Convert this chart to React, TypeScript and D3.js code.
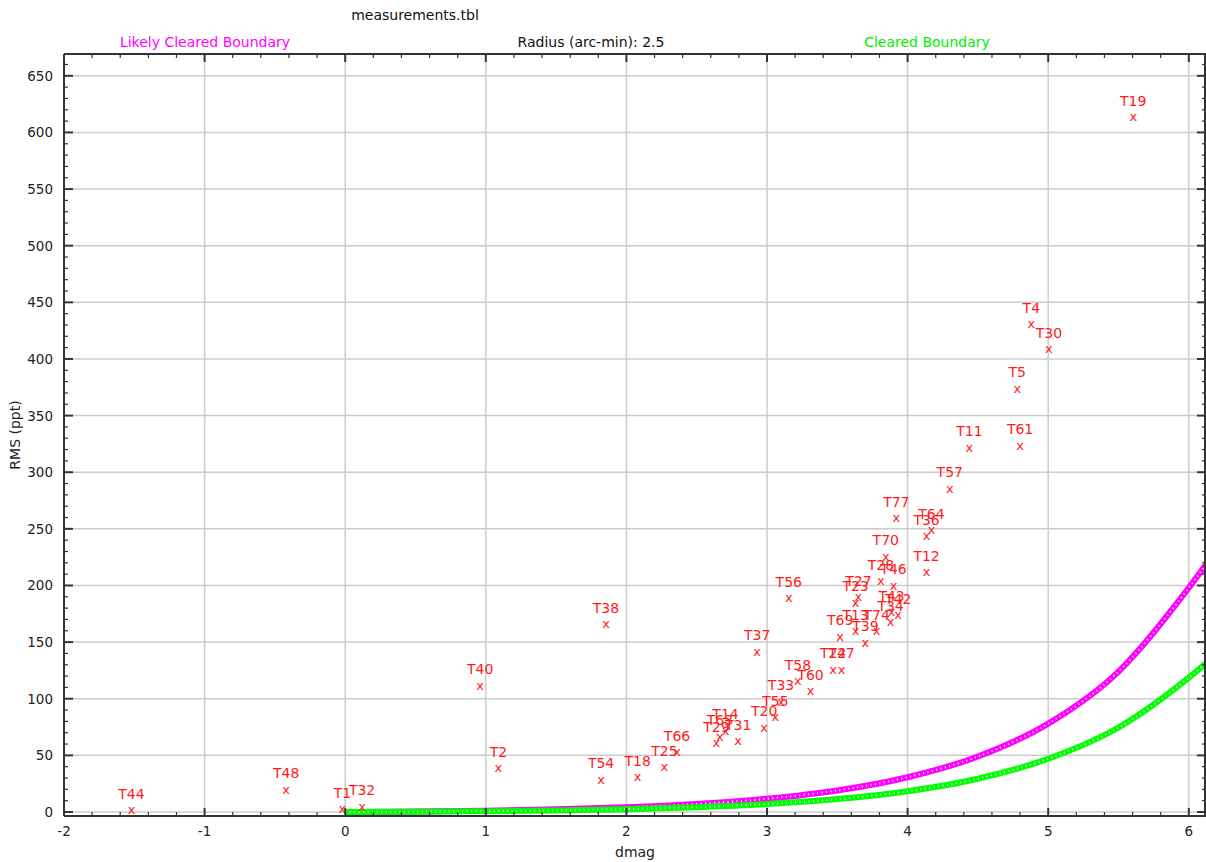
import React from "react";
import * as d3 from "d3";

const W = 1206;
const H = 862;

// Target points
const targetLabels = [
  "T44", "T48", "T1", "T32", "T40", "T2", "T54", "T38", "T18", "T25", "T66",
  "T29", "T63", "T14", "T31", "T37", "T20", "T55", "T33", "T56", "T58", "T60",
  "T22", "T47", "T69", "T13", "T23", "T27", "T39", "T74", "T70", "T28", "T46",
  "T43", "T42", "T34", "T77", "T12", "T36", "T64", "T57", "T11", "T5", "T61",
  "T4", "T30", "T19",
];
const targetDmag = [
  -1.52, -0.42, -0.02, 0.12, 0.96, 1.09, 1.82, 1.855, 2.08, 2.27, 2.36,
  2.64, 2.665, 2.705, 2.795, 2.93, 2.98, 3.06, 3.1, 3.155, 3.22, 3.31,
  3.47, 3.53, 3.52, 3.63, 3.63, 3.65, 3.7, 3.78, 3.845, 3.81, 3.9,
  3.886, 3.933, 3.879, 3.92, 4.135, 4.135, 4.17, 4.3, 4.44, 4.78, 4.8,
  4.88, 5.005, 5.605,
];
const targetRms = [
  2, 20, 3, 5, 112, 39, 29, 166, 31, 40, 53,
  61, 67, 72, 63, 142, 75, 84, 98, 189, 116, 107,
  126, 126, 155, 160, 185, 190, 150, 160, 226, 204, 200,
  177, 174, 168, 260, 212, 244, 249, 286, 322, 374, 324,
  431, 409, 614,
];

// Boundary curves
const boundaryDmag = [0, 0.5, 1, 1.5, 2, 2.5, 3, 3.5, 4, 4.5, 5, 5.5, 6, 6.12];
const likelyBoundaryRms = [0, 0.5, 1.2, 2.4, 4.2, 7.1, 11.7, 19, 30.7, 49, 78, 124, 198, 218];
const clearedBoundaryRms = [0, 0.3, 0.7, 1.4, 2.5, 4.3, 7, 11.4, 18.4, 29.4, 47, 74.6, 118.6, 131];

const xMajorTicks = [-2, -1, 0, 1, 2, 3, 4, 5, 6];
const yMajorTicks = [0, 50, 100, 150, 200, 250, 300, 350, 400, 450, 500, 550, 600, 650];

const titleText = "measurements.tbl";
const leftLegend = "Likely Cleared Boundary";
const centerLegend = "Radius (arc-min): 2.5";
const rightLegend = "Cleared Boundary";

const FONT = "'DejaVu Sans', Verdana, sans-serif";

export default function App() {
  const left = 64, right = 1206, top = 54, bottom = 816;
  const x = d3.scaleLinear().domain([-2, -2 + (right - left) / 140.6]).range([left, right]);
  const y = d3.scaleLinear().domain([(bottom - 812) / -1.1326, (812 - top) / 1.1326]).range([bottom, top]);

  const xMinor = d3.range(-2, 6.15, 0.2).map((v) => Math.round(v * 10) / 10);
  const yMinor = d3.range(0, 670, 10);

  const line = d3
    .line<number>()
    .x((_, i) => x(boundaryDmag[i]))
    .y((d) => y(d))
    .curve(d3.curveMonotoneX);

  const axisColor = "#333";
  const gridColor = "#cccccc";

  return (
    <svg width={W} height={H} style={{ position: "absolute", left: 0, top: 0, background: "#fff" }} fontFamily={FONT}>
      <rect x={0} y={0} width={W} height={H} fill="#fff" />
      <defs>
        <clipPath id="plot">
          <rect x={left} y={top} width={right - left} height={bottom - top} />
        </clipPath>
      </defs>
      {/* grid */}
      {xMajorTicks.map((t) => (
        <line key={"gx" + t} x1={x(t)} x2={x(t)} y1={top + 8} y2={bottom - 8} stroke={gridColor} strokeWidth={1.5} />
      ))}
      {yMajorTicks.map((t) => (
        <line key={"gy" + t} x1={left + 9} x2={right - 9} y1={y(t)} y2={y(t)} stroke={gridColor} strokeWidth={1.5} />
      ))}

      {/* boundary curves */}
      <g clipPath="url(#plot)">
        <path d={line(likelyBoundaryRms) || ""} fill="none" stroke="#ff00ff" strokeWidth={6} />
        <path d={line(likelyBoundaryRms) || ""} fill="none" stroke="#ffffff" strokeWidth={2} strokeDasharray="1 3.5" />
        <path d={line(clearedBoundaryRms) || ""} fill="none" stroke="#00ff00" strokeWidth={6} />
        <path d={line(clearedBoundaryRms) || ""} fill="none" stroke="#ffffff" strokeWidth={2} strokeDasharray="1 3.5" />
      </g>

      {/* targets */}
      <g fill="#ff1a1a" fontSize={14}>
        {targetLabels.map((lab, i) => {
          const px = x(targetDmag[i]);
          const py = y(targetRms[i]);
          return (
            <g key={lab}>
              <text x={px} y={py} textAnchor="middle" dominantBaseline="central" fontSize={13}>x</text>
              <text x={px} y={py - 11} textAnchor="middle">{lab}</text>
            </g>
          );
        })}
      </g>

      {/* axes */}
      <g stroke={axisColor}>
        <line x1={left} x2={left} y1={top} y2={bottom} strokeWidth={2} />
        <line x1={left} x2={right} y1={bottom} y2={bottom} strokeWidth={2} />
        <line x1={left} x2={right} y1={top} y2={top} strokeWidth={2} />
        <line x1={right - 1} x2={right - 1} y1={top} y2={bottom} strokeWidth={2} />
        {xMinor.map((t) => {
          const major = Math.abs(t - Math.round(t)) < 1e-6;
          const len = major ? 8 : 4;
          return (
            <g key={"xt" + t}>
              <line x1={x(t)} x2={x(t)} y1={bottom} y2={bottom - len} strokeWidth={major ? 2 : 1.2} />
              <line x1={x(t)} x2={x(t)} y1={top} y2={top + len} strokeWidth={major ? 2 : 1.2} />
            </g>
          );
        })}
        {yMinor.map((t) => {
          const major = t % 50 === 0;
          const len = major ? 9 : 4;
          return (
            <g key={"yt" + t}>
              <line x1={left} x2={left + len} y1={y(t)} y2={y(t)} strokeWidth={major ? 2 : 1.2} />
              <line x1={right} x2={right - len} y1={y(t)} y2={y(t)} strokeWidth={major ? 2 : 1.2} />
            </g>
          );
        })}
      </g>

      {/* tick labels */}
      <g fill="#222" fontSize={13.5}>
        {xMajorTicks.map((t) => (
          <text key={"xl" + t} x={x(t)} y={bottom + 15} textAnchor="middle" dominantBaseline="central">{t}</text>
        ))}
        {yMajorTicks.map((t) => (
          <text key={"yl" + t} x={left - 11} y={y(t)} textAnchor="end" dominantBaseline="central">{t}</text>
        ))}
      </g>

      {/* axis titles */}
      <text x={(left + right) / 2} y={852} textAnchor="middle" dominantBaseline="central" fontSize={14} fill="#222">dmag</text>
      <text transform={`translate(15, ${(top + bottom) / 2}) rotate(-90)`} textAnchor="middle" dominantBaseline="central" fontSize={14} fill="#222">RMS (ppt)</text>

      {/* titles */}
      <text x={415} y={15} textAnchor="middle" dominantBaseline="central" fontSize={14} fill="#111">{titleText}</text>
      <text x={205} y={42} textAnchor="middle" dominantBaseline="central" fontSize={14} fill="#ff00ff">{leftLegend}</text>
      <text x={591} y={42} textAnchor="middle" dominantBaseline="central" fontSize={14} fill="#111">{centerLegend}</text>
      <text x={927} y={42} textAnchor="middle" dominantBaseline="central" fontSize={14} fill="#00ee00">{rightLegend}</text>
    </svg>
  );
}
